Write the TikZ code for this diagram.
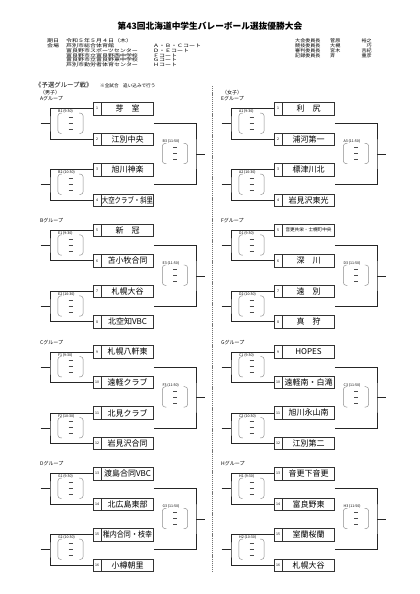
\documentclass[tikz,border=0pt]{standalone}
\usepackage{graphicx}
\usepackage{fontspec}
\setmainfont{Noto Sans CJK JP}
\newcommand\fs[1]{\fontsize{#1}{#1}\selectfont}
\tikzset{
  num/.style={draw=black!80, line width=0.5pt, minimum width=8pt, minimum height=12.5pt, inner sep=0pt, font=\fs{3.5}},
  team/.style={draw=black!80, line width=0.5pt, minimum width=52pt, minimum height=12.5pt, inner sep=0pt, font=\fs{8}, anchor=west},
  br/.style={line width=0.8pt, black!85},
  sline/.style={line width=0.45pt, black!45},
  dline/.style={line width=0.45pt, black!70},
  mlabel/.style={font=\fs{3.6}, anchor=west, inner sep=0pt},
  glabel/.style={font=\fs{5}, anchor=west, inner sep=0pt},
  hd/.style={font=\fs{4.6}, anchor=west, inner sep=0pt},
  sbox/.style={minimum width=25pt, minimum height=20pt, inner sep=0pt},
}
% score box: #1 name, #2 centre
\newcommand\scbox[2]{%
  \node[sbox] (#1) at (#2) {};
  \draw[sline, rounded corners=3pt] ([xshift=4pt]#1.north west) -- (#1.north west) -- (#1.south west) -- ([xshift=4pt]#1.south west);
  \draw[sline, rounded corners=3pt] ([xshift=-4pt]#1.north east) -- (#1.north east) -- (#1.south east) -- ([xshift=-4pt]#1.south east);
  \draw[dline] ([xshift=-2pt,yshift=6pt]#1.center) -- ([xshift=2pt,yshift=6pt]#1.center);
  \draw[dline] ([xshift=-2pt]#1.center) -- ([xshift=2pt]#1.center);
  \draw[dline] ([xshift=-2pt,yshift=-6pt]#1.center) -- ([xshift=2pt,yshift=-6pt]#1.center);
}
% group: #1 letter, #2 xoff, #3 top, #4 court, #5 first no., #6-#9 names
\newcommand\grp[9]{%
\begin{scope}[shift={(#2,#3)}]
  \node[glabel] (#1lab) at (40,-3.5) {#1グループ};
  \node[num] (#1n1) at (97,6.25) {#5};
  \node[num] (#1n2) at (97,36.75) {\the\numexpr#5+1\relax};
  \node[num] (#1n3) at (97,67.25) {\the\numexpr#5+2\relax};
  \node[num] (#1n4) at (97,97.75) {\the\numexpr#5+3\relax};
  \node[team] (#1t1) at (#1n1.east) {#6};
  \node[team] (#1t2) at (#1n2.east) {#7};
  \node[team] (#1t3) at (#1n3.east) {#8};
  \node[team] (#1t4) at (#1n4.east) {#9};
  \coordinate (#1a) at (50,21.5);
  \coordinate (#1b) at (50,82.5);
  \coordinate (#1sa) at (40.7,21.5);
  \coordinate (#1sb) at (40.7,82.5);
  \draw[br] (#1n1.west) -| (#1a) |- (#1n2.west);
  \draw[br] (#1n3.west) -| (#1b) |- (#1n4.west);
  \draw[br] (#1sa) -- (#1a);
  \draw[br] (#1sb) -- (#1b);
  \coordinate (#1r1) at (#1t1.east |- #1a);
  \coordinate (#1r2) at (#1t3.east |- #1b);
  \coordinate (#1q) at (196,52);
  \coordinate (#1f) at (205,52);
  \draw[br] (#1r1) -| (#1q) |- (#1r2);
  \draw[br] (#1q) -- (#1f);
  \node[mlabel] (#1m1) at (58,9.2) {#41 (9:30)};
  \scbox{#1s1}{70.5,21}
  \node[mlabel] (#1m2) at (58,70.2) {#42 (10:30)};
  \scbox{#1s2}{70.5,82}
  \node[mlabel] (#1m3) at (162.5,39.4) {#43 (11:50)};
  \scbox{#1s3}{175,51.2}
\end{scope}}
\begin{document}
\begin{tikzpicture}[x=1pt,y=-1pt]
\fill[white] (0,0) rectangle (420,594);
\useasboundingbox (0,0) rectangle (420,594);
% title
\node[font=\fs{8.7}\bfseries, inner sep=0pt] (title) at (210,26) {第43回北海道中学生バレーボール選抜優勝大会};
% header left
\node[hd] (h1) at (47,41) {\scalebox{1.3}[1]{期日}};
\node[hd] (h2) at (66,41) {\scalebox{1.3}[1]{令和５年５月４日（木）}};
\node[hd] (h3) at (47,46) {\scalebox{1.3}[1]{会場}};
\node[hd] (v1) at (66,46) {\scalebox{1.3}[1]{芦別市総合体育館}};
\node[hd] (v2) at (66,50.7) {\scalebox{1.3}[1]{富良野市スポーツセンター}};
\node[hd] (v3) at (66,55.4) {\scalebox{1.3}[1]{富良野市立富良野西中学校}};
\node[hd] (v4) at (66,60.1) {\scalebox{1.3}[1]{富良野市立富良野東中学校}};
\node[hd] (v5) at (66,64.8) {\scalebox{1.3}[1]{芦別市勤労者体育センター}};
\node[hd] (c1) at (153,46) {\scalebox{1.3}[1]{Ａ・Ｂ・Ｃコート}};
\node[hd] (c2) at (153,50.7) {\scalebox{1.3}[1]{Ｄ・Ｅコート}};
\node[hd] (c3) at (153,55.4) {\scalebox{1.3}[1]{Ｆコート}};
\node[hd] (c4) at (153,60.1) {\scalebox{1.3}[1]{Ｇコート}};
\node[hd] (c5) at (153,64.8) {\scalebox{1.3}[1]{Ｈコート}};
% header right
\node[hd] (o1) at (295,41) {\scalebox{1.1}[1]{大会委員長}};
\node[hd] (o2) at (295,46) {\scalebox{1.1}[1]{競技委員長}};
\node[hd] (o3) at (295,50.7) {\scalebox{1.1}[1]{審判委員長}};
\node[hd] (o4) at (295,55.4) {\scalebox{1.1}[1]{記録委員長}};
\node[hd] (p1) at (330,41) {\scalebox{1.1}[1]{菅原}};
\node[hd] (p2) at (330,46) {\scalebox{1.1}[1]{大槻}};
\node[hd] (p3) at (330,50.7) {\scalebox{1.1}[1]{宮木}};
\node[hd] (p4) at (330,55.4) {\scalebox{1.1}[1]{斉}};
\node[hd, anchor=east] (g1) at (372,41) {\scalebox{1.1}[1]{裕之}};
\node[hd, anchor=east] (g2) at (372,46) {\scalebox{1.1}[1]{巧}};
\node[hd, anchor=east] (g3) at (372,50.7) {\scalebox{1.1}[1]{吉紀}};
\node[hd, anchor=east] (g4) at (372,55.4) {\scalebox{1.1}[1]{重彦}};
% section titles
\node[font=\fs{6.4}, anchor=west, inner sep=0pt] (sec) at (35,85.5) {《予選グループ戦》};
\node[font=\fs{4.6}, anchor=west, inner sep=0pt] (note) at (100,85.8) {※全試合　追い込みで行う};
\node[glabel] (boys) at (40,92.8) {（男子）};
\node[glabel] (girls) at (222,93) {（女子）};
% divider
\coordinate (d1) at (212.7,86);
\coordinate (d2) at (212.7,572);
\draw[line width=0.6pt, black!55, dash pattern=on 1.2pt off 0.9pt] (d1) -- (d2);
% men
\grp{A}{0}{102.3}{B}{1}{芽　室}{江別中央}{旭川神楽}{\scalebox{0.8}[1]{大空クラブ・斜里}}
\grp{B}{0}{224}{E}{5}{新　冠}{苫小牧合同}{札幌大谷}{北空知VBC}
\grp{C}{0}{345.7}{F}{9}{札幌八軒東}{遠軽クラブ}{北見クラブ}{岩見沢合同}
\grp{D}{0}{467.3}{G}{13}{渡島合同VBC}{北広島東部}{\scalebox{0.88}[1]{稚内合同・枝幸}}{小樽朝里}
% women
\grp{E}{181}{102.3}{A}{1}{利　尻}{浦河第一}{標津川北}{岩見沢東光}
\grp{F}{181}{224}{D}{5}{\fs{4.6}音更共栄・士幌町中央}{深　川}{遠　別}{真　狩}
\grp{G}{181}{345.7}{C}{9}{HOPES}{遠軽南・白滝}{旭川永山南}{江別第二}
\grp{H}{181}{467.3}{H}{13}{音更下音更}{富良野東}{室蘭桜蘭}{札幌大谷}
\end{tikzpicture}
\end{document}
